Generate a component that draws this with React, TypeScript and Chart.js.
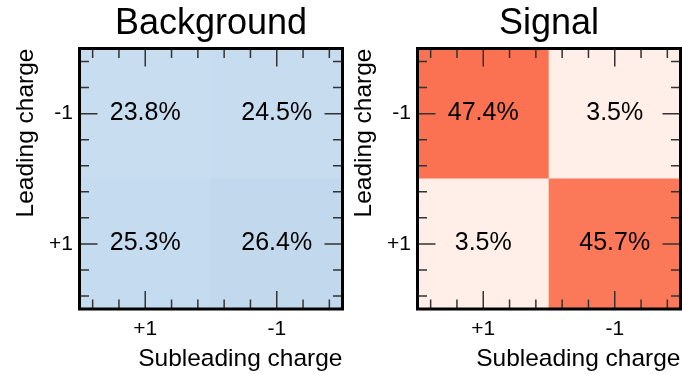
import React, { useEffect, useRef } from "react";
import { Chart, registerables } from "chart.js";

Chart.register(...registerables);

// Charge categories: columns sit at x = 0, 1 and rows at y = 0 (bottom), 1 (top)
const subleadingCharges = ["+1", "-1"];
const leadingCharges = ["+1", "-1"];

// Event fractions in percent, one array per row (columns: subleading +1, -1)
const backgroundRowMinus = [23.8, 24.5]; // leading charge -1
const backgroundRowPlus = [25.3, 26.4]; // leading charge +1
const signalRowMinus = [47.4, 3.5];
const signalRowPlus = [3.5, 45.7];

// Axis tick positions (in category units)
const majorTickValues = [0, 1];
const minorTickValues = [-0.4, -0.2, 0.2, 0.4, 0.6, 0.8, 1.2, 1.4];

const FONT = "'Liberation Sans', Arial, Helvetica, sans-serif";

const BLUES = ["#f7fbff", "#deebf7", "#c6dbef", "#9ecae1", "#6baed6", "#4292c6", "#2171b5", "#08519c", "#08306b"];
const REDS = ["#fff5f0", "#fee0d2", "#fcbba1", "#fc9272", "#fb6a4a", "#ef3b2c", "#cb181d", "#a50f15", "#67000d"];

function hexToRgb(h: string) {
  const n = parseInt(h.slice(1), 16);
  return [(n >> 16) & 255, (n >> 8) & 255, n & 255];
}

// Sequential colour map on a 0..100 % range
function colorFor(stops: string[], pct: number) {
  const f = Math.max(0, Math.min(1, pct / 100)) * (stops.length - 1);
  const i = Math.min(stops.length - 2, Math.floor(f));
  const t = f - i;
  const a = hexToRgb(stops[i]);
  const b = hexToRgb(stops[i + 1]);
  const c = a.map((v, k) => Math.round(v + (b[k] - v) * t));
  return `rgb(${c[0]},${c[1]},${c[2]})`;
}

type Cell = { x: number; y: [number, number]; v: number };

function buildCells(rowMinus: number[], rowPlus: number[]): Cell[] {
  const cells: Cell[] = [];
  rowMinus.forEach((v, c) => cells.push({ x: c, y: [0.5, 1.5], v }));
  rowPlus.forEach((v, c) => cells.push({ x: c, y: [-0.5, 0.5], v }));
  return cells;
}

const frameAndLabels = {
  id: "frameAndLabels",
  afterDatasetsDraw(chart: any) {
    const { ctx } = chart;
    const meta = chart.getDatasetMeta(0);
    const data = chart.data.datasets[0].data as Cell[];
    ctx.save();
    ctx.fillStyle = "#000";
    ctx.font = `25px ${FONT}`;
    ctx.textAlign = "center";
    ctx.textBaseline = "middle";
    meta.data.forEach((bar: any, i: number) => {
      const { x, y, base } = bar.getProps(["x", "y", "base"], true);
      ctx.fillText(`${data[i].v.toFixed(1)}%`, x, (y + base) / 2 - 1);
    });
    ctx.restore();
  },
  afterDraw(chart: any) {
    const { ctx, chartArea: a, scales } = chart;
    const xs = scales.x;
    const ys = scales.y;
    ctx.save();
    ctx.strokeStyle = "#333";
    ctx.lineWidth = 1.5;
    const tick = (vals: number[], len: number) => {
      ctx.beginPath();
      vals.forEach((v) => {
        const px = xs.getPixelForValue(v);
        ctx.moveTo(px, a.bottom);
        ctx.lineTo(px, a.bottom - len);
        ctx.moveTo(px, a.top);
        ctx.lineTo(px, a.top + len);
        const py = ys.getPixelForValue(v);
        ctx.moveTo(a.left, py);
        ctx.lineTo(a.left + len, py);
        ctx.moveTo(a.right, py);
        ctx.lineTo(a.right - len, py);
      });
      ctx.stroke();
    };
    tick(majorTickValues, 18);
    tick(minorTickValues, 9.5);
    ctx.strokeStyle = "#000";
    ctx.lineWidth = 3;
    ctx.strokeRect(a.left, a.top, a.right - a.left, a.bottom - a.top);
    ctx.restore();
  },
};

function Panel({ title, rowMinus, rowPlus, stops, left }: { title: string; rowMinus: number[]; rowPlus: number[]; stops: string[]; left: number }) {
  const ref = useRef<HTMLCanvasElement>(null);
  useEffect(() => {
    if (!ref.current) return;
    const cells = buildCells(rowMinus, rowPlus);
    const chart = new Chart(ref.current, {
      type: "bar",
      data: {
        datasets: [
          {
            data: cells as any,
            backgroundColor: cells.map((c) => colorFor(stops, c.v)),
            borderWidth: 0,
            barPercentage: 1,
            categoryPercentage: 1,
          } as any,
        ],
      },
      options: {
        responsive: false,
        animation: false,
        events: [],
        layout: { padding: { left: 0, right: 1.5, top: 0, bottom: 0 } },
        plugins: {
          legend: { display: false },
          tooltip: { enabled: false },
          title: {
            display: true,
            text: title,
            fullSize: false,
            color: "#000",
            font: { family: FONT, size: 36, weight: "normal", lineHeight: 1.2 },
            padding: { top: 2, bottom: 3.3 },
          },
        },
        scales: {
          x: {
            type: "linear",
            offset: false,
            bounds: "data",
            min: -0.5,
            max: 1.5,
            grid: { display: false, offset: false, drawTicks: false },
            border: { display: false },
            afterBuildTicks: (s: any) => {
              s.ticks = majorTickValues.map((value) => ({ value }));
            },
            afterFit: (s: any) => {
              s.height = 65;
            },
            ticks: {
              color: "#000",
              padding: 8,
              maxRotation: 0,
              autoSkip: false,
              font: { family: FONT, size: 21, lineHeight: 1.2 },
              callback: (v: any) => subleadingCharges[Number(v)] ?? "",
            },
            title: {
              display: true,
              text: "Subleading charge",
              align: "end",
              color: "#000",
              font: { family: FONT, size: 24.5, lineHeight: 1.2 },
              padding: { top: 0, bottom: 0.5 },
            },
          },
          y: {
            type: "linear",
            bounds: "data",
            min: -0.5,
            max: 1.5,
            grid: { display: false, drawTicks: false },
            border: { display: false },
            afterBuildTicks: (s: any) => {
              s.ticks = majorTickValues.map((value) => ({ value }));
            },
            afterFit: (s: any) => {
              s.width = 79.5;
            },
            ticks: {
              color: "#000",
              padding: 6.5,
              autoSkip: false,
              font: { family: FONT, size: 21, lineHeight: 1.2 },
              callback: (v: any) => leadingCharges[Number(v)] ?? "",
            },
            title: {
              display: true,
              text: "Leading charge",
              align: "end",
              color: "#000",
              font: { family: FONT, size: 24.5, lineHeight: 1.2 },
              padding: { top: 11.5, bottom: 0 },
            },
          },
        },
      } as any,
      plugins: [frameAndLabels],
    });
    return () => chart.destroy();
  }, [title, rowMinus, rowPlus, stops]);
  return (
    <canvas
      ref={ref}
      width={344}
      height={374}
      style={{ position: "absolute", left, top: 0, width: 344, height: 374 }}
    />
  );
}

export default function App() {
  return (
    <div style={{ position: "fixed", left: 0, top: 0, width: 682, height: 374, background: "#fff", overflow: "hidden" }}>
      <Panel title="Background" rowMinus={backgroundRowMinus} rowPlus={backgroundRowPlus} stops={BLUES} left={0} />
      <Panel title="Signal" rowMinus={signalRowMinus} rowPlus={signalRowPlus} stops={REDS} left={338} />
    </div>
  );
}
